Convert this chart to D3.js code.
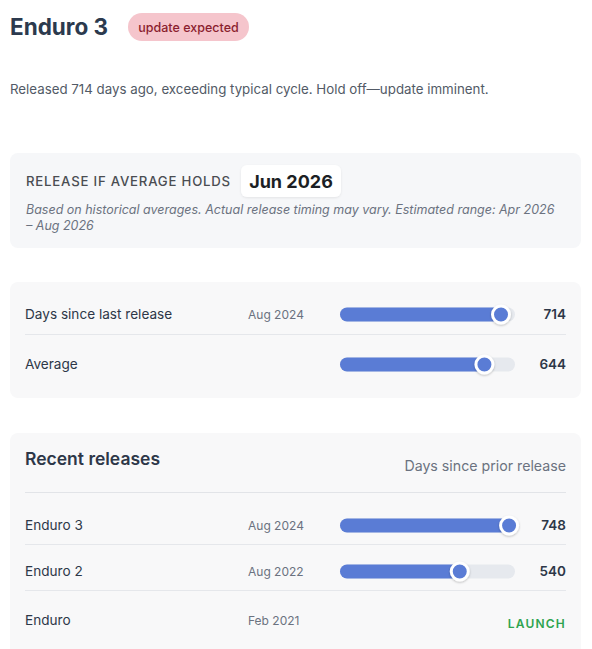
<!DOCTYPE html>
<html>
<head>
<meta charset="utf-8">
<script src="https://cdn.jsdelivr.net/npm/d3@7"></script>
<style>
  html, body { margin: 0; padding: 0; background: #fff; }
  svg { display: block; font-family: Inter, "Noto Sans", sans-serif; }
</style>
</head>
<body>
<div id="chart"></div>
<script>
// data
const productName = "Enduro 3";
const statusLabel = "update expected";
const summaryText = "Released 714 days ago, exceeding typical cycle. Hold off\u2014update imminent.";
const projectionLabel = "RELEASE IF AVERAGE HOLDS";
const projectionDate = "Jun 2026";
const projectionNote = ["Based on historical averages. Actual release timing may vary. Estimated range: Apr 2026", "\u2013 Aug 2026"];

const summaryLabels = ["Days since last release", "Average"];
const summaryDates = ["Aug 2024", ""];
const summaryValues = [714, 644];

const releaseNames = ["Enduro 3", "Enduro 2", "Enduro"];
const releaseDates = ["Aug 2024", "Aug 2022", "Feb 2021"];
const releaseGaps = [748, 540, null];

const scaleDomain = [35, 773];

const width = 592, height = 649;
const blue = "#5a7cd5";

const svg = d3.select("#chart")
    .append("svg")
    .attr("width", width)
    .attr("height", height);

const defs = svg.append("defs");
const knobShadow = defs.append("filter").attr("id", "knobShadow")
    .attr("x", "-50%").attr("y", "-50%").attr("width", "200%").attr("height", "200%");
knobShadow.append("feDropShadow").attr("dx", 0).attr("dy", 1).attr("stdDeviation", 1.2)
    .attr("flood-color", "#000").attr("flood-opacity", 0.25);
const pillShadow = defs.append("filter").attr("id", "pillShadow")
    .attr("x", "-20%").attr("y", "-30%").attr("width", "140%").attr("height", "160%");
pillShadow.append("feDropShadow").attr("dx", 0).attr("dy", 1).attr("stdDeviation", 1)
    .attr("flood-color", "#000").attr("flood-opacity", 0.08);

const x = d3.scaleLinear().domain(scaleDomain).range([340, 515]);

// header
svg.append("text")
    .attr("x", 10).attr("y", 35)
    .attr("font-size", 22.5).attr("font-weight", 700)
    .attr("fill", "#2c3a4e")
    .text(productName);

svg.append("rect")
    .attr("x", 128).attr("y", 13).attr("width", 121).attr("height", 28).attr("rx", 14)
    .attr("fill", "#f5c5cc");
svg.append("text")
    .attr("x", 188.5).attr("y", 31.5)
    .attr("text-anchor", "middle")
    .attr("font-size", 12.5).attr("font-weight", 500)
    .attr("fill", "#8b1e2f")
    .text(statusLabel);

svg.append("text")
    .attr("x", 10).attr("y", 94)
    .attr("font-size", 13.3)
    .attr("fill", "#525a66")
    .text(summaryText);

// projection card
svg.append("rect")
    .attr("x", 10).attr("y", 153).attr("width", 571).attr("height", 95).attr("rx", 8)
    .attr("fill", "#f6f7f9");
svg.append("text")
    .attr("x", 26).attr("y", 186)
    .attr("font-size", 13.2).attr("font-weight", 500)
    .attr("letter-spacing", "0.06em")
    .attr("fill", "#4a4d52")
    .text(projectionLabel);
svg.append("rect")
    .attr("x", 241).attr("y", 165).attr("width", 100).attr("height", 32).attr("rx", 6)
    .attr("fill", "#fff")
    .attr("filter", "url(#pillShadow)");
svg.append("text")
    .attr("x", 291).attr("y", 188)
    .attr("text-anchor", "middle")
    .attr("font-size", 18).attr("font-weight", 700)
    .attr("fill", "#1c1f24")
    .text(projectionDate);
svg.append("g")
    .selectAll("text")
    .data(projectionNote)
    .join("text")
    .attr("x", 26)
    .attr("y", (d, i) => 214 + i * 16)
    .attr("font-size", 12.5).attr("font-style", "italic")
    .attr("fill", "#6b7280")
    .text(d => d);

// bar row helper
function drawBar(g, value, cy) {
    g.append("rect")
        .attr("x", x.range()[0]).attr("y", cy - 7)
        .attr("width", x.range()[1] - x.range()[0]).attr("height", 14).attr("rx", 7)
        .attr("fill", "#e6e9ee");
    g.append("rect")
        .attr("x", x.range()[0]).attr("y", cy - 7)
        .attr("width", x(value) - x.range()[0]).attr("height", 14).attr("rx", 7)
        .attr("fill", blue);
    g.append("circle")
        .attr("cx", x(value)).attr("cy", cy).attr("r", 8.5)
        .attr("fill", blue)
        .attr("stroke", "#fff").attr("stroke-width", 3)
        .attr("filter", "url(#knobShadow)");
}

// summary card
svg.append("rect")
    .attr("x", 10).attr("y", 282).attr("width", 571).attr("height", 116).attr("rx", 8)
    .attr("fill", "#f8f8f9");

const summaryRows = svg.append("g")
    .selectAll("g")
    .data(summaryValues)
    .join("g");

summaryRows.each(function (v, i) {
    const g = d3.select(this);
    const cy = 314.5 + i * 50;
    g.append("text")
        .attr("x", 25).attr("y", cy + 4.5)
        .attr("font-size", 13.6).attr("fill", "#2d3748")
        .text(summaryLabels[i]);
    g.append("text")
        .attr("x", 248).attr("y", cy + 4.5)
        .attr("font-size", 12).attr("fill", "#6b7280")
        .text(summaryDates[i]);
    drawBar(g, v, cy);
    g.append("text")
        .attr("x", 566).attr("y", cy + 4.5)
        .attr("text-anchor", "end")
        .attr("font-size", 13.5).attr("font-weight", 600).attr("fill", "#2d3748")
        .text(v);
});

svg.append("line")
    .attr("x1", 25).attr("x2", 566).attr("y1", 334.5).attr("y2", 334.5)
    .attr("stroke", "#e5e7eb");

// recent releases card
svg.append("rect")
    .attr("x", 10).attr("y", 433).attr("width", 571).attr("height", 230).attr("rx", 8)
    .attr("fill", "#f8f8f9");
svg.append("text")
    .attr("x", 25).attr("y", 465)
    .attr("font-size", 17.5).attr("font-weight", 600).attr("fill", "#2d3748")
    .text("Recent releases");
svg.append("text")
    .attr("x", 566).attr("y", 471)
    .attr("text-anchor", "end")
    .attr("font-size", 14.2).attr("fill", "#6b7280")
    .text("Days since prior release");
svg.append("line")
    .attr("x1", 25).attr("x2", 566).attr("y1", 492.5).attr("y2", 492.5)
    .attr("stroke", "#e2e4e8");

const rowY = [525.5, 571.5, 620];
const releaseRows = svg.append("g")
    .selectAll("g")
    .data(releaseNames)
    .join("g");

releaseRows.each(function (name, i) {
    const g = d3.select(this);
    const cy = rowY[i];
    g.append("text")
        .attr("x", 25).attr("y", cy + 4.5)
        .attr("font-size", 13.6).attr("fill", "#2d3748")
        .text(name);
    g.append("text")
        .attr("x", 248).attr("y", cy + 4.5)
        .attr("font-size", 12).attr("fill", "#6b7280")
        .text(releaseDates[i]);
    if (releaseGaps[i] != null) {
        drawBar(g, releaseGaps[i], cy);
        g.append("text")
            .attr("x", 566).attr("y", cy + 4.5)
            .attr("text-anchor", "end")
            .attr("font-size", 13.5).attr("font-weight", 600).attr("fill", "#2d3748")
            .text(releaseGaps[i]);
    } else {
        g.append("text")
            .attr("x", 566).attr("y", cy + 7.5)
            .attr("text-anchor", "end")
            .attr("font-size", 12).attr("font-weight", 600)
            .attr("letter-spacing", "0.1em")
            .attr("fill", "#2ea44f")
            .text("LAUNCH");
    }
    if (i < releaseNames.length - 1) {
        g.append("line")
            .attr("x1", 25).attr("x2", 566)
            .attr("y1", cy + 19).attr("y2", cy + 19)
            .attr("stroke", "#e5e7eb");
    }
});
</script>
</body>
</html>
